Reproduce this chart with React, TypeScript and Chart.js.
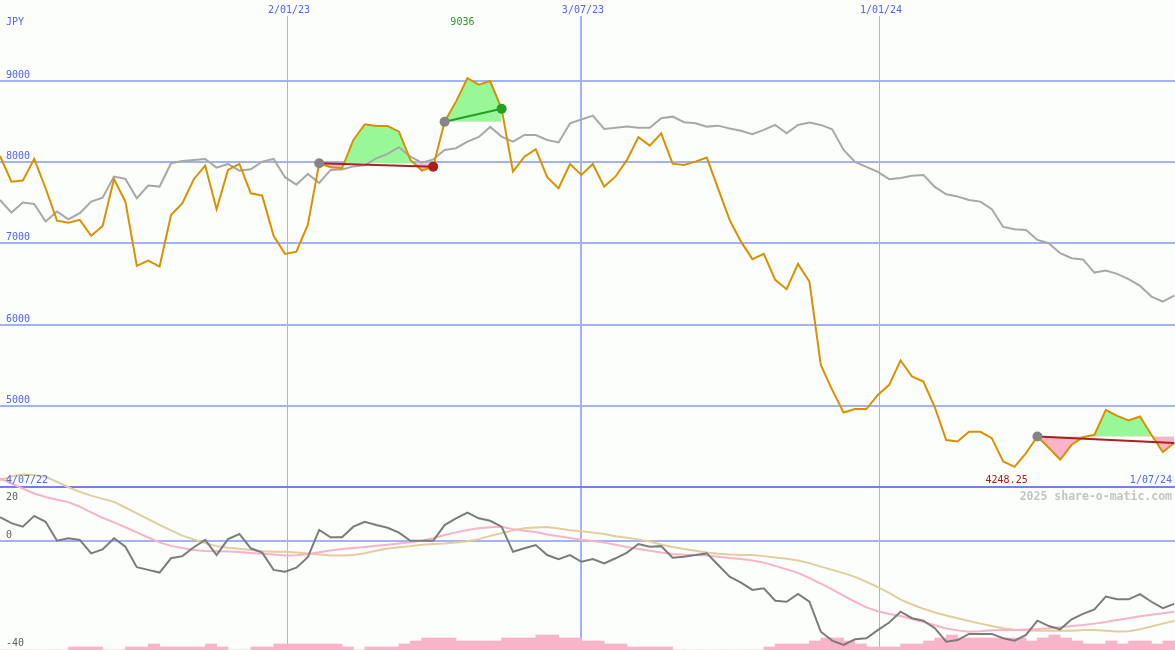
import React, { useEffect, useRef } from "react";
import { Chart, registerables } from "chart.js";

Chart.register(...registerables);

const W = 1175;
const H = 650;

// weekly closes (JPY), 4/07/22 .. 1/07/24
const closes = [
  8079, 7762, 7775, 8042, 7681, 7282, 7257, 7291, 7094, 7217,
  7792, 7516, 6724, 6790, 6716, 7352, 7496, 7792, 7959, 7422,
  7906, 7980, 7619, 7590, 7094, 6872, 6900, 7229, 7989, 7940,
  7927, 8276, 8469, 8448, 8448, 8378, 8030, 7898, 7947, 8501,
  8748, 9036, 8957, 9002, 8660, 7886, 8070, 8161, 7817, 7681,
  7980, 7845, 7980, 7701, 7826, 8030, 8309, 8206, 8358, 7984,
  7968, 8009, 8058, 7672, 7291, 7023, 6807, 6872, 6552, 6437,
  6749, 6531, 5505, 5197, 4918, 4960, 4960, 5135, 5259, 5560,
  5361, 5300, 4982, 4578, 4560, 4680, 4680, 4602, 4314, 4248.25,
  4417, 4622, 4483, 4335, 4520, 4614, 4643, 4951, 4877, 4819,
  4868, 4643, 4430, 4541,
];

// long moving average (grey)
const movingAvg = [
  7537, 7381, 7504, 7488, 7270, 7393, 7299, 7373, 7516, 7565,
  7824, 7796, 7558, 7713, 7701, 7989, 8017, 8030, 8042, 7935,
  7980, 7898, 7915, 8009, 8042, 7817, 7725, 7857, 7746, 7906,
  7913, 7950, 7964, 8048, 8103, 8186, 8070, 7996, 8036, 8153,
  8174, 8255, 8313, 8436, 8317, 8255, 8337, 8337, 8276, 8245,
  8482, 8528, 8575, 8411, 8427, 8440, 8427, 8427, 8543, 8563,
  8494, 8482, 8440, 8452, 8417, 8390, 8346, 8399, 8461, 8358,
  8461, 8489, 8461, 8408, 8153, 8005, 7943, 7882, 7792, 7808,
  7836, 7845, 7697, 7607, 7578, 7537, 7516, 7422, 7204, 7176,
  7167, 7044, 7004, 6881, 6819, 6804, 6642, 6666, 6626, 6560,
  6478, 6346, 6285, 6358,
];

// lower panel: oscillator (dark grey)
const oscillator = [
  8.8, 6.6, 5.3, 9.3, 7.1, 0.1, 1.0, 0.4, -4.6, -3.1,
  1.0, -2.1, -9.7, -10.7, -11.7, -6.4, -5.6, -2.3, 0.4, -5.2,
  0.7, 2.6, -2.7, -4.3, -10.7, -11.4, -9.9, -6.0, 4.1, 1.4,
  1.4, 5.3, 7.1, 5.9, 4.9, 3.1, 0.1, 0.1, 0.1, 5.9,
  8.4, 10.5, 8.4, 7.5, 5.3, -4.0, -2.7, -1.5, -5.2, -6.7,
  -5.2, -7.7, -6.7, -8.3, -6.4, -4.3, -1.1, -2.1, -1.9, -6.2,
  -5.8, -5.2, -4.6, -8.9, -13.2, -15.4, -18.1, -17.5, -22.1, -22.5,
  -19.6, -22.5, -33.6, -36.9, -38.5, -36.4, -36.0, -33.0, -30.2, -26.2,
  -28.6, -29.5, -32.3, -37.3, -36.7, -34.4, -34.4, -34.4, -36.0, -36.9,
  -34.8, -29.5, -31.5, -32.7, -29.0, -27.0, -25.3, -20.6, -21.6, -21.6,
  -19.7, -22.5, -24.9, -23.3,
];

// lower panel: fast average (pink)
const oscFast = [
  23.2, 21.3, 19.4, 17.6, 16.3, 15.3, 14.4, 12.7, 10.6, 8.6,
  6.9, 5.1, 3.2, 1.3, -0.5, -1.8, -2.6, -3.3, -3.7, -3.8,
  -3.9, -4.1, -4.4, -4.7, -5.0, -5.4, -5.3, -4.8, -4.2, -3.5,
  -3.0, -2.6, -2.2, -1.8, -1.4, -0.9, -0.5, 0.1, 1.0, 2.2,
  3.2, 4.1, 4.7, 5.1, 5.3, 4.4, 3.8, 3.3, 2.4, 1.8,
  1.1, 0.5, 0.0, -0.6, -1.4, -2.2, -3.0, -3.6, -4.3, -4.8,
  -5.1, -5.2, -5.4, -5.8, -6.3, -6.7, -7.2, -8.0, -9.2, -10.5,
  -11.8, -13.7, -15.8, -17.9, -20.3, -22.5, -24.6, -26.0, -27.0, -27.8,
  -28.9, -30.0, -31.2, -32.4, -33.1, -33.6, -33.4, -33.1, -33.0, -33.0,
  -32.8, -32.6, -32.3, -31.9, -31.5, -31.1, -30.6, -30.0, -29.3, -28.6,
  -27.9, -27.3, -26.8, -26.2,
];

// lower panel: slow average (beige)
const oscSlow = [
  22.5, 23.9, 24.6, 24.4, 23.8, 21.9, 19.9, 18.2, 16.8, 15.6,
  14.5, 12.4, 10.2, 8.1, 6.0, 3.9, 2.0, 0.6, -0.8, -1.9,
  -2.5, -2.9, -3.3, -3.8, -4.0, -4.0, -4.3, -4.6, -5.0, -5.4,
  -5.4, -5.2, -4.5, -3.6, -2.8, -2.3, -1.9, -1.4, -1.1, -0.9,
  -0.6, -0.1, 0.7, 1.9, 2.9, 4.0, 4.7, 5.0, 5.2, 4.6,
  4.0, 3.6, 3.1, 2.6, 1.8, 1.2, 0.6, -0.2, -1.3, -2.2,
  -3.0, -3.6, -4.3, -4.7, -5.0, -5.2, -5.2, -5.6, -6.1, -6.6,
  -7.2, -8.2, -9.5, -10.7, -11.9, -13.3, -15.1, -17.1, -19.2, -21.7,
  -23.5, -25.1, -26.5, -27.6, -28.6, -29.6, -30.6, -31.5, -32.3, -32.9,
  -33.1, -33.2, -33.2, -33.2, -33.2, -33.0, -33.0, -33.2, -33.5, -33.4,
  -32.7, -31.7, -30.6, -29.6,
];

// volume histogram (relative units)
const volume = [
  0, 0, 0, 0, 0, 0, 1, 1, 1, 0,
  0, 1, 1, 2, 1, 1, 1, 1, 2, 1,
  0, 0, 1, 1, 2, 2, 2, 2, 2, 2,
  1, 0, 1, 1, 1, 2, 3, 4, 4, 4,
  3, 3, 3, 3, 4, 4, 4, 5, 5, 4,
  4, 3, 3, 2, 2, 1, 1, 1, 1, 0,
  0, 0, 0, 0, 0, 0, 0, 1, 2, 2,
  2, 3, 4, 4, 3, 2, 1, 1, 1, 2,
  2, 3, 4, 5, 4, 4, 4, 4, 4, 4,
  3, 4, 5, 4, 3, 2, 2, 3, 2, 3,
  3, 2, 3, 3,
];

// trade signals (week indices)
const tradeEntries = [28, 39, 91];
const tradeExits = [38, 44, 103];
const tradeOpen = [false, false, true];

// axis ticks
const dateTickIdx = [25.18, 50.96, 77.11];
const dateTickLabels = ["2/01/23", "3/07/23", "1/01/24"];
const dateTickWidths = [1, 2, 1];
const startDateLabel = "4/07/22";
const endDateLabel = "1/07/24";
const priceTicks = [9000, 8000, 7000, 6000, 5000];
const priceFloor = 4000;
const oscTicks = [20, 0, -40];
const oscZero = 0;

const PX_PER_WEEK = 11.4;
const FONT = '"DejaVu Sans Mono", monospace';

const BLUE_TEXT = "#5064f0";
const GRID = "#a3b2f2";
const SEP = "#6f80f0";
const ORANGE = "#da9100";
const GREY_MA = "#a8a8a8";
const GREEN_FILL = "#98f898";
const PINK_FILL = "#f9b4c9";
const RED = "#a82020";
const GREEN = "#22a022";

const pts = (arr: number[], from = 0, to = arr.length - 1) =>
  arr.slice(from, to + 1).map((v, k) => ({ x: from + k, y: v }));

const overlay = {
  id: "overlay",
  beforeDatasetsDraw(chart: any) {
    const { ctx, scales } = chart;
    const x = scales.x, y = scales.y, y2 = scales.y2;
    ctx.save();
    ctx.fillStyle = GRID;
    priceTicks.forEach((v) => {
      const py = Math.round(y.getPixelForValue(v));
      ctx.fillRect(0, py - 1, W, 2);
    });
    const pz = Math.round(y2.getPixelForValue(oscZero));
    ctx.fillRect(0, pz - 1, W, 2);
    dateTickIdx.forEach((d, k) => {
      const px = Math.round(x.getPixelForValue(d));
      const w = dateTickWidths[k];
      ctx.fillRect(px - (w > 1 ? 1 : 0), 16, w, H - 16);
    });
    ctx.fillStyle = SEP;
    const ps = Math.round(y.getPixelForValue(priceFloor));
    ctx.fillRect(0, ps - 1, W, 2);
    ctx.restore();
  },
  afterDatasetsDraw(chart: any) {
    const { ctx, scales } = chart;
    const x = scales.x, y = scales.y, y2 = scales.y2;
    ctx.save();
    ctx.font = `10px ${FONT}`;
    ctx.textBaseline = "alphabetic";
    ctx.fillStyle = BLUE_TEXT;
    ctx.textAlign = "left";
    ctx.fillText("JPY", 6, 25);
    priceTicks.forEach((v) => {
      ctx.fillText(String(v), 6, Math.round(y.getPixelForValue(v)) - 3);
    });
    ctx.textAlign = "center";
    dateTickIdx.forEach((d, k) => {
      ctx.fillText(dateTickLabels[k], x.getPixelForValue(d) + 2, 13);
    });
    const floorY = Math.round(y.getPixelForValue(priceFloor));
    ctx.textAlign = "left";
    ctx.fillText(startDateLabel, 6, floorY - 4);
    ctx.textAlign = "right";
    ctx.fillText(endDateLabel, W - 3, floorY - 4);

    // max / min annotations
    let maxI = 0, minI = 0;
    closes.forEach((v, i) => {
      if (v > closes[maxI]) maxI = i;
      if (v < closes[minI]) minI = i;
    });
    ctx.textAlign = "center";
    ctx.fillStyle = "#2a962a";
    ctx.fillText(String(Math.round(closes[maxI])), x.getPixelForValue(maxI) - 5, 25);
    ctx.fillStyle = "#a01818";
    ctx.fillText(closes[minI].toFixed(2), x.getPixelForValue(minI) - 8, floorY - 4);

    // oscillator labels
    ctx.textAlign = "left";
    ctx.fillStyle = "#606060";
    oscTicks.forEach((v) => {
      const py = Math.round(y2.getPixelForValue(v));
      const base = py - 3 < floorY + 10 ? floorY + 13 : py - 3;
      ctx.fillText(String(v), 6, base);
    });

    ctx.font = `bold 11.5px ${FONT}`;
    ctx.fillStyle = "#c4c4c4";
    ctx.textAlign = "right";
    ctx.fillText("2025 share-o-matic.com", W - 3, floorY + 13);
    ctx.restore();
  },
};

export default function App() {
  const ref = useRef<HTMLCanvasElement | null>(null);

  useEffect(() => {
    if (!ref.current) return;
    const lineBase = {
      type: "line" as const,
      pointRadius: 0,
      borderWidth: 2,
      tension: 0,
      fill: false,
    };

    const fills = tradeEntries.map((e, k) => ({
      ...lineBase,
      data: pts(closes, e, tradeExits[k]),
      yAxisID: "y",
      borderWidth: 0,
      borderColor: "rgba(0,0,0,0)",
      fill: { target: { value: closes[e] }, above: GREEN_FILL, below: PINK_FILL },
      order: 5,
    }));

    const trends = tradeEntries.map((e, k) => {
      const x2 = tradeExits[k];
      const up = closes[x2] >= closes[e];
      return {
        ...lineBase,
        data: [
          { x: e, y: closes[e] },
          { x: x2, y: closes[x2] },
        ],
        yAxisID: "y",
        borderColor: up ? GREEN : RED,
        borderWidth: 2,
        order: 1,
      };
    });

    const closedExits = tradeExits.filter((_, k) => !tradeOpen[k]);

    const chart = new Chart(ref.current, {
      type: "line",
      data: {
        datasets: [
          {
            ...lineBase,
            data: tradeEntries.map((i) => ({ x: i, y: closes[i] })),
            yAxisID: "y",
            showLine: false,
            pointRadius: 5,
            pointBorderWidth: 0,
            pointBackgroundColor: "#858585",
            order: 0,
          },
          {
            ...lineBase,
            data: closedExits.map((i) => ({ x: i, y: closes[i] })),
            yAxisID: "y",
            showLine: false,
            pointRadius: 5,
            pointBorderWidth: 0,
            pointBackgroundColor: closedExits.map((i, k) => {
              const e = tradeEntries[tradeExits.indexOf(i)];
              return closes[i] >= closes[e] ? GREEN : RED;
            }),
            order: 0,
          },
          ...trends,
          { ...lineBase, data: pts(closes), yAxisID: "y", borderColor: ORANGE, order: 2 },
          { ...lineBase, data: pts(movingAvg), yAxisID: "y", borderColor: GREY_MA, order: 3 },
          ...fills,
          { ...lineBase, data: pts(oscillator), yAxisID: "y2", borderColor: "#7c7c7c", order: 6 },
          { ...lineBase, data: pts(oscFast), yAxisID: "y2", borderColor: "#f8b3c8", order: 7 },
          { ...lineBase, data: pts(oscSlow), yAxisID: "y2", borderColor: "#e4cc9c", order: 8 },
          {
            type: "bar" as const,
            data: volume.map((v, i) => ({ x: i + 0.5, y: v })),
            yAxisID: "yv",
            backgroundColor: PINK_FILL,
            borderWidth: 0,
            barPercentage: 1,
            categoryPercentage: 1,
            order: 20,
          },
        ] as any,
      },
      options: {
        responsive: false,
        animation: false,
        devicePixelRatio: 1,
        events: [],
        layout: { padding: 0, autoPadding: false },
        plugins: { legend: { display: false }, tooltip: { enabled: false } },
        scales: {
          x: { type: "linear", min: 0, max: W / PX_PER_WEEK, display: false, offset: false },
          y: { type: "linear", min: priceFloor - (163 / 487) * 6000, max: 10000, display: false },
          y2: { type: "linear", min: -109 / 2.7, max: 541 / 2.7, display: false },
          yv: { type: "linear", min: 0, max: H / 3, display: false },
        },
      } as any,
      plugins: [overlay],
    });
    return () => chart.destroy();
  }, []);

  return (
    <div
      style={{
        position: "fixed",
        left: 0,
        top: 0,
        width: W,
        height: H,
        background: "#fcfefc",
      }}
    >
      <canvas ref={ref} width={W} height={H} style={{ width: W, height: H, display: "block" }} />
    </div>
  );
}
